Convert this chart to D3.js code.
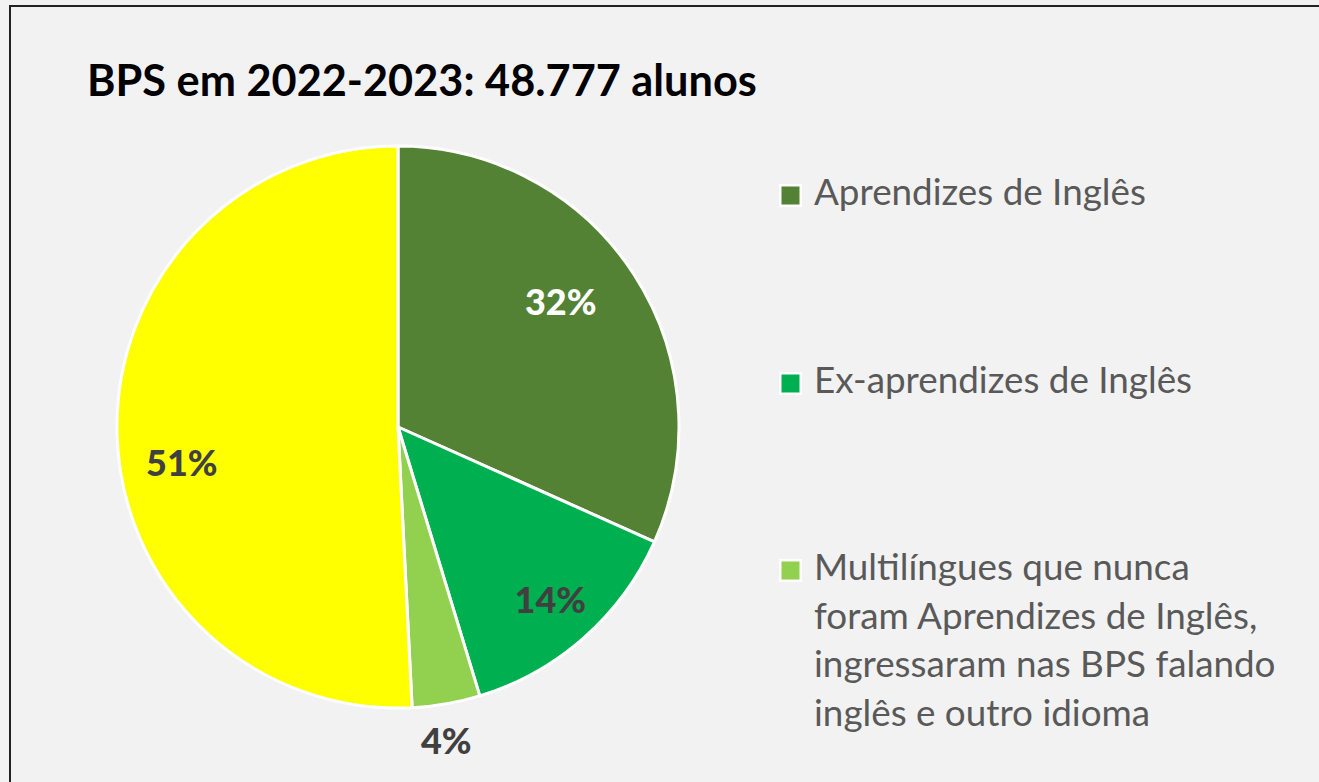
<!DOCTYPE html>
<html lang="pt">
<head>
<meta charset="UTF-8">
<title>BPS em 2022-2023</title>
<script src="https://d3js.org/d3.v7.min.js"></script>
<style>
  html, body { margin: 0; padding: 0; background: #f2f2f2; }
  svg { display: block; }
  text { font-family: Lato, 'Open Sans', sans-serif; }
</style>
</head>
<body>
<div id="chart"></div>
<script>
// data
const categories = ["Aprendizes de Inglês", "Ex-aprendizes de Inglês", "Multilíngues que nunca foram Aprendizes de Inglês, ingressaram nas BPS falando inglês e outro idioma", "Outros"];
const values = [31.7, 13.6, 3.9, 50.8];
const colors = ["#548235", "#00b050", "#92d050", "#ffff00"];
const legendLines = [
  ["Aprendizes de Inglês"],
  ["Ex-aprendizes de Inglês"],
  ["Multilíngues que nunca", "foram Aprendizes de Inglês,", "ingressaram nas BPS falando", "inglês e outro idioma"]
];
const title = "BPS em 2022-2023: 48.777 alunos";

const W = 1319, H = 782;
const cx = 398, cy = 427, R = 281;

const svg = d3.select("#chart").append("svg")
  .attr("width", W).attr("height", H);

// frame
svg.append("rect")
  .attr("x", 10).attr("y", 6)
  .attr("width", W + 20).attr("height", H + 20)
  .attr("fill", "#f2f2f2")
  .attr("stroke", "#222").attr("stroke-width", 2);

// fit a text element's font size so it spans a given width
function fit(sel, target) {
  const fs = parseFloat(sel.attr("font-size"));
  const w = sel.node().getComputedTextLength();
  const nfs = fs * target / w;
  sel.attr("font-size", nfs);
  return nfs;
}

const t = svg.append("text")
  .attr("x", 87).attr("y", 96)
  .attr("font-size", 40).attr("font-weight", 700)
  .attr("fill", "#000")
  .text(title);
fit(t, 670);

// pie
const pie = d3.pie().sort(null).value(d => d);
const arcs = pie(values);
const arc = d3.arc().innerRadius(0).outerRadius(R);

const g = svg.append("g").attr("transform", `translate(${cx},${cy})`);
g.selectAll("path")
  .data(arcs)
  .enter().append("path")
  .attr("d", arc)
  .attr("fill", (d, i) => colors[i])
  .attr("stroke", "#fff")
  .attr("stroke-width", 3)
  .attr("stroke-linejoin", "round");

// data labels
const labelR = [0.73, 0.82, 1.13, 0.78];
const labelShift = [-0.08, 0, 0.02, -0.14];
const labelFill = ["#fff", "#404040", "#404040", "#404040"];
g.selectAll("text.lbl")
  .data(arcs)
  .enter().append("text")
  .attr("class", "lbl")
  .attr("x", (d, i) => Math.sin((d.startAngle + d.endAngle) / 2 + labelShift[i]) * R * labelR[i])
  .attr("y", (d, i) => -Math.cos((d.startAngle + d.endAngle) / 2 + labelShift[i]) * R * labelR[i])
  .attr("dy", "0.36em")
  .attr("text-anchor", "middle")
  .attr("font-size", 36).attr("font-weight", 900)
  .attr("fill", (d, i) => labelFill[i])
  .text(d => Math.round(d.data) + "%");

// legend
const legendY = [195, 383, 570];
const lineH = 48.5;
const leg = svg.append("g");
let legFs = 31;
legendLines.forEach((lines, i) => {
  const item = leg.append("g");
  item.append("rect")
    .attr("x", 779).attr("y", legendY[i] - 11)
    .attr("width", 23).attr("height", 23)
    .attr("fill", "#fff");
  item.append("rect")
    .attr("x", 781.5).attr("y", legendY[i] - 8.5)
    .attr("width", 18).attr("height", 18)
    .attr("fill", colors[i]);
  lines.forEach((ln, j) => {
    const tx = item.append("text")
      .attr("x", 814).attr("y", legendY[i] + 10 + j * lineH)
      .attr("font-size", legFs)
      .attr("fill", "#595959")
      .text(ln);
    if (i === 0 && j === 0) legFs = fit(tx, 332);
  });
});
</script>
</body>
</html>
